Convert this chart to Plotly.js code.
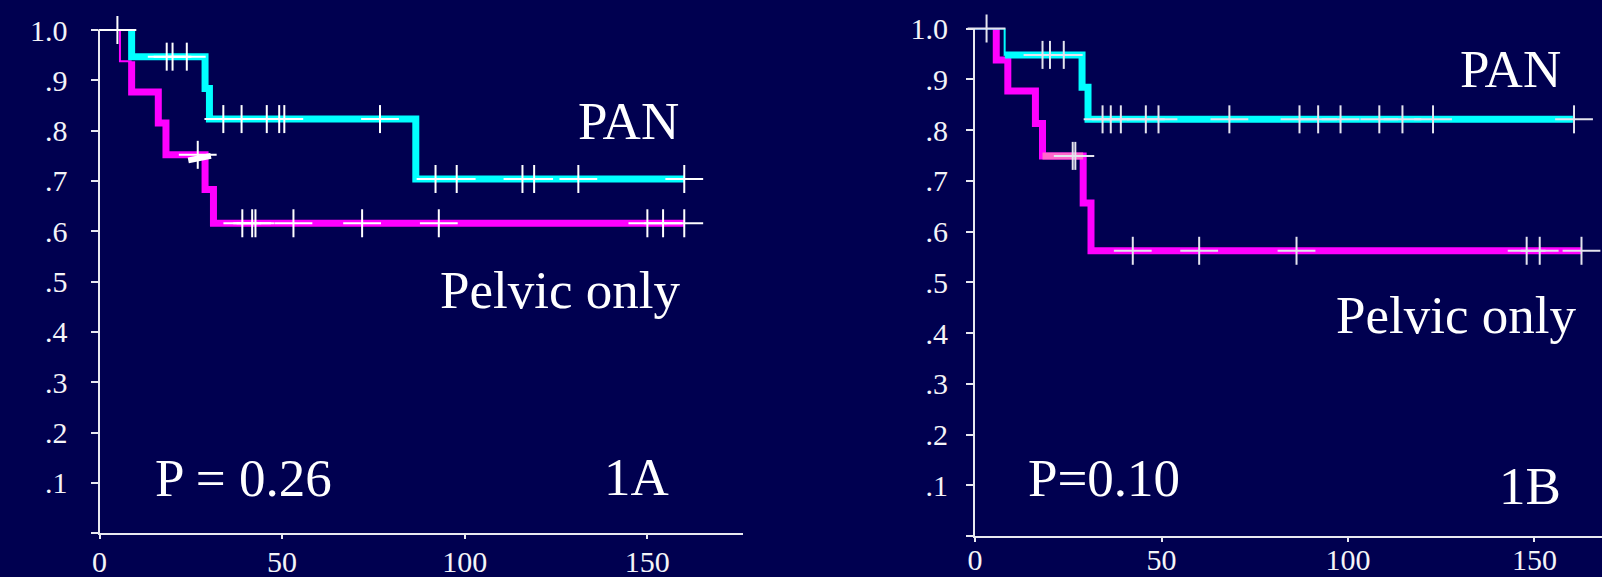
<!DOCTYPE html>
<html>
<head>
<meta charset="utf-8">
<script src="https://cdn.plot.ly/plotly-3.0.1.min.js"></script>
<style>html,body{margin:0;padding:0;background:#000050;}#chart{width:1602px;height:577px;}</style>
</head>
<body>
<div id="chart"></div>
<script>
// ---------- Panel 1A ----------
var a_panTimes   = [8.8, 28.9, 30.1, 86.6];
var a_panSurv    = [0.947, 0.884, 0.823, 0.704];
var a_panEnd     = 160.3;
var a_panThick   = 8.8;   // time from which the curve is drawn thick
var a_panCensT   = [4.9, 18.4, 20.0, 23.9, 33.9, 38.9, 45.8, 49.2, 50.6, 76.8, 92.0, 97.8, 115.8, 119.0, 131.1, 160.1];
var a_panCensS   = [1.0, 0.947, 0.947, 0.947, 0.823, 0.823, 0.823, 0.823, 0.823, 0.823, 0.704, 0.704, 0.704, 0.704, 0.704, 0.704];

var a_pelTimes   = [5.6, 8.8, 16.1, 18.2, 28.9, 31.2];
var a_pelSurv    = [0.938, 0.877, 0.815, 0.752, 0.683, 0.616];
var a_pelEnd     = 160.3;
var a_pelThick   = 8.8;
var a_pelCensT   = [26.9, 39.1, 41.8, 42.7, 53.1, 71.9, 92.9, 150.0, 154.3, 160.1];
var a_pelCensS   = [0.752, 0.616, 0.616, 0.616, 0.616, 0.616, 0.616, 0.616, 0.616, 0.616];
var a_barT       = [24.3, 30.5];
var a_barS       = [0.741, 0.750];

// ---------- Panel 1B ----------
var b_panTimes   = [7.95, 28.7, 30.3];
var b_panSurv    = [0.948, 0.884, 0.821];
var b_panEnd     = 160.3;
var b_panThick   = 8.0;
var b_panCensT   = [3.1, 18.1, 20.1, 23.8, 34.2, 36.4, 39.1, 45.8, 49.2, 68.2, 87.0, 92.0, 98.0, 108.4, 114.6, 122.8, 160.6];
var b_panCensS   = [1.0, 0.948, 0.948, 0.948, 0.821, 0.821, 0.821, 0.821, 0.821, 0.821, 0.821, 0.821, 0.821, 0.821, 0.821, 0.821, 0.821];

var b_pelTimes   = [5.7, 8.8, 16.2, 18.1, 29.0, 31.1];
var b_pelSurv    = [0.938, 0.877, 0.813, 0.749, 0.656, 0.562];
var b_pelEnd     = 162.6;
var b_pelThick   = 5.7;
var b_pelCensT   = [26.2, 26.9, 42.3, 60.1, 86.2, 147.9, 151.4, 162.6];
var b_pelCensS   = [0.749, 0.749, 0.562, 0.562, 0.562, 0.562, 0.562, 0.562];
var b_pinkT      = [18.1, 29.0];
var b_pinkS      = [0.749, 0.749];

// axis ticks
var xTickVals = [0, 50, 100, 150];
var xTickText = ["0", "50", "100", "150"];
var yTickVals = [0, 0.1, 0.2, 0.3, 0.4, 0.5, 0.6, 0.7, 0.8, 0.9, 1.0];
var yTickText = ["", ".1", ".2", ".3", ".4", ".5", ".6", ".7", ".8", ".9", "1.0"];

var BG = "#000050", CYAN = "#00FFFF", MAG = "#FF00FF", PINK = "#FF66CC", WHITE = "#FFFFFF";
var FONT = "Liberation Serif, Times New Roman, serif";

function curveTraces(times, surv, end, t0, color, xa, ya) {
  var tx = [0], ty = [1], cur = 1, i;
  for (i = 0; i < times.length && times[i] < t0; i++) { tx.push(times[i]); ty.push(surv[i]); cur = surv[i]; }
  tx.push(t0); ty.push(cur);
  var kx = [t0], ky = [cur];
  for (; i < times.length; i++) { kx.push(times[i]); ky.push(surv[i]); cur = surv[i]; }
  kx.push(end); ky.push(cur);
  return [
    {x: tx, y: ty, xaxis: xa, yaxis: ya, mode: "lines", line: {shape: "hv", color: color, width: 2}, cliponaxis: false, hoverinfo: "skip", showlegend: false},
    {x: kx, y: ky, xaxis: xa, yaxis: ya, mode: "lines", line: {shape: "hv", color: color, width: 7}, cliponaxis: false, hoverinfo: "skip", showlegend: false}
  ];
}
function censorTraces(t, s, xa, ya, col) {
  return [
    {x: t, y: s, xaxis: xa, yaxis: ya, mode: "markers", marker: {symbol: "line-ew", size: 27, line: {color: col, width: 2}}, cliponaxis: false, hoverinfo: "skip", showlegend: false},
    {x: t, y: s, xaxis: xa, yaxis: ya, mode: "markers", marker: {symbol: "line-ns", size: 20, line: {color: col, width: 2}}, cliponaxis: false, hoverinfo: "skip", showlegend: false}
  ];
}

var data = [];
data = data.concat(curveTraces(a_pelTimes, a_pelSurv, a_pelEnd, a_pelThick, MAG, "x", "y"));
data = data.concat(curveTraces(a_panTimes, a_panSurv, a_panEnd, a_panThick, CYAN, "x", "y"));
data.push({x: a_barT, y: a_barS, xaxis: "x", yaxis: "y", mode: "lines", line: {color: WHITE, width: 6}, cliponaxis: false, hoverinfo: "skip", showlegend: false});
data = data.concat(censorTraces(a_panCensT, a_panCensS, "x", "y", WHITE));
data = data.concat(censorTraces(a_pelCensT, a_pelCensS, "x", "y", WHITE));

data = data.concat(curveTraces(b_pelTimes, b_pelSurv, b_pelEnd, b_pelThick, MAG, "x2", "y2"));
data.push({x: b_pinkT, y: b_pinkS, xaxis: "x2", yaxis: "y2", mode: "lines", line: {color: PINK, width: 7}, cliponaxis: false, hoverinfo: "skip", showlegend: false});
data = data.concat(curveTraces(b_panTimes, b_panSurv, b_panEnd, b_panThick, CYAN, "x2", "y2"));
data = data.concat(censorTraces(b_panCensT, b_panCensS, "x2", "y2", "#E4E4EE"));
data = data.concat(censorTraces(b_pelCensT, b_pelCensS, "x2", "y2", "#E4E4EE"));

var W = 1602, H = 577;
function px(x) { return x / W; }
function py(y) { return 1 - y / H; }

var axisCommon = {
  showgrid: false, zeroline: false, showline: true, linecolor: "#E8E8F0", linewidth: 2,
  ticks: "outside", tickcolor: "#E8E8F0", tickwidth: 2, fixedrange: true,
  tickfont: {family: FONT, size: 30, color: "#F4F4F8"}, tickmode: "array"
};
function ax(extra) { var o = {}; for (var k in axisCommon) o[k] = axisCommon[k]; for (var e in extra) o[e] = extra[e]; return o; }

function ann(text, cx, cy) {
  return {text: text, x: px(cx), y: py(cy), xref: "paper", yref: "paper", xanchor: "center", yanchor: "middle",
          showarrow: false, font: {family: FONT, size: 53, color: WHITE}};
}

var layout = {
  width: W, height: H, margin: {l: 0, r: 0, t: 0, b: 0},
  paper_bgcolor: BG, plot_bgcolor: BG, showlegend: false,
  xaxis: ax({domain: [px(99.5), px(742.7)], range: [0, 176.1], anchor: "y", tickvals: xTickVals, ticktext: xTickText, ticklen: 4, ticklabelstandoff: -3}),
  yaxis: ax({domain: [py(533.3), py(30)], range: [0, 1], anchor: "x", tickvals: yTickVals, ticktext: yTickText, ticklen: 7, ticklabelstandoff: 17}),
  xaxis2: ax({domain: [px(975), 1], range: [0, 168.1], anchor: "y2", tickvals: xTickVals, ticktext: xTickText, ticklen: 4, ticklabelstandoff: -8}),
  yaxis2: ax({domain: [py(536), py(28.5)], range: [0, 1], anchor: "x2", tickvals: yTickVals, ticktext: yTickText, ticklen: 7, ticklabelstandoff: 12}),
  annotations: [
    ann("PAN", 628, 121),
    ann("Pelvic only", 559.5, 290),
    ann("P = 0.26", 243.5, 478),
    ann("1A", 636, 476.5),
    ann("PAN", 1510.5, 68.5),
    ann("Pelvic only", 1456, 315),
    ann("P=0.10", 1103.5, 478),
    ann("1B", 1529.5, 485.5)
  ]
};

Plotly.newPlot("chart", data, layout, {displayModeBar: false, staticPlot: true});
</script>
</body>
</html>
